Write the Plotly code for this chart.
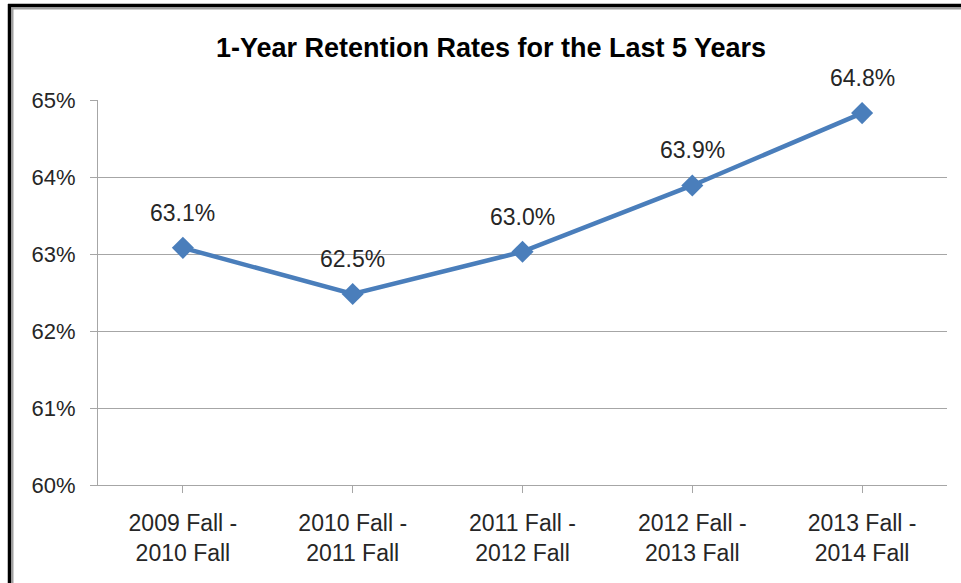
import plotly.graph_objects as go

categories = ["2009 Fall -<br>2010 Fall", "2010 Fall -<br>2011 Fall", "2011 Fall -<br>2012 Fall",
              "2012 Fall -<br>2013 Fall", "2013 Fall -<br>2014 Fall"]
retention = [63.08, 62.48, 63.03, 63.89, 64.83]
labels = [f"{v:.1f}%" for v in retention]
y_ticks = [60, 61, 62, 63, 64, 65]
y_tick_text = [f"{t}%" for t in y_ticks]

W, H = 961, 583
L, R, T, B = 98, 14, 100, 98
pw, ph = W - L - R, H - T - B

def px_x(x):
    return (x - L) / pw

def px_y(y):
    return (H - B - y) / ph

font_main = "Liberation Sans, Arial, sans-serif"
grid = "#A6A6A6"
blue = "#4A7EBB"

fig = go.Figure()
fig.add_trace(go.Scatter(
    x=list(range(len(categories))), y=retention,
    mode="lines+markers",
    line=dict(color=blue, width=4.5),
    marker=dict(symbol="diamond", size=17, color=blue),
    cliponaxis=False, hoverinfo="skip",
))

annotations = [
    dict(x=i, y=v, xref="x", yref="y", text=lbl, showarrow=False,
         yshift=35, font=dict(family=font_main, size=23, color="#262626"))
    for i, (v, lbl) in enumerate(zip(retention, labels))
]

shapes = [
    dict(type="line", xref="paper", yref="paper", x0=px_x(12.5), x1=px_x(12.5), y0=px_y(8), y1=px_y(600),
         line=dict(color="#A0A0A0", width=2)),
    dict(type="line", xref="paper", yref="paper", x0=px_x(12), x1=px_x(980), y0=px_y(8.5), y1=px_y(8.5),
         line=dict(color="#A0A0A0", width=2)),
    dict(type="line", xref="paper", yref="paper", x0=px_x(9.5), x1=px_x(9.5), y0=px_y(4), y1=px_y(600),
         line=dict(color="#000000", width=3.5)),
    dict(type="line", xref="paper", yref="paper", x0=px_x(8), x1=px_x(980), y0=px_y(5.5), y1=px_y(5.5),
         line=dict(color="#000000", width=3.5)),
]

fig.update_layout(
    width=W, height=H,
    margin=dict(l=L, r=R, t=T, b=B),
    paper_bgcolor="white", plot_bgcolor="white",
    showlegend=False,
    title=dict(text="<b>1-Year Retention Rates for the Last 5 Years</b>",
               x=491 / W, xanchor="center", y=1 - 48 / H, yanchor="middle",
               font=dict(family=font_main, size=27, color="#000000")),
    shapes=shapes,
    annotations=annotations,
    xaxis=dict(
        range=[-0.5, len(categories) - 0.5],
        tickmode="array", tickvals=list(range(len(categories))), ticktext=categories,
        tickson="boundaries", ticks="outside", ticklen=7, tickcolor=grid,
        showline=True, linecolor=grid, linewidth=1,
        showgrid=False, zeroline=False,
        tickfont=dict(family=font_main, size=23, color="#262626"),
        ticklabelstandoff=10,
    ),
    yaxis=dict(
        range=[60, 65],
        tickmode="array", tickvals=y_ticks, ticktext=y_tick_text,
        ticks="outside", ticklen=7, tickcolor=grid,
        showline=True, linecolor=grid, linewidth=1,
        showgrid=True, gridcolor=grid, gridwidth=1,
        zeroline=False,
        tickfont=dict(family=font_main, size=22, color="#262626"),
        ticklabelstandoff=10,
    ),
)

fig.write_html("out.html", config={"displayModeBar": False},
               post_script="document.body.style.margin='0px';")
